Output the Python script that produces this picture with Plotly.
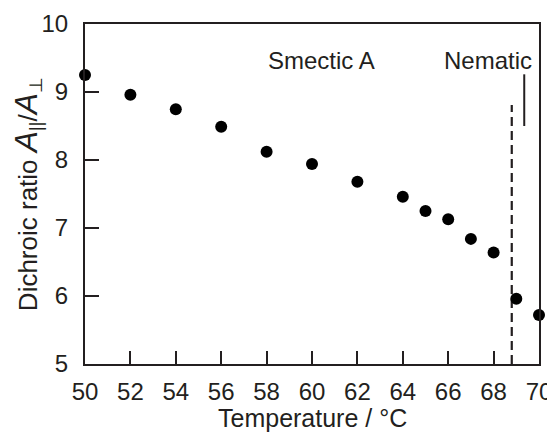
import plotly.graph_objects as go

temperature = [50, 52, 54, 56, 58, 60, 62, 64, 65, 66, 67, 68, 69, 70]
dichroic_ratio = [9.25, 8.96, 8.745, 8.49, 8.12, 7.94, 7.68, 7.46, 7.25, 7.13, 6.84, 6.64, 5.96, 5.72]

transition_T = [68.8, 68.8]
transition_y = [5.0, 8.81]
nematic_marker_T = [69.35, 69.35]
nematic_marker_y = [8.5, 9.26]

x_ticks = [50, 52, 54, 56, 58, 60, 62, 64, 66, 68, 70]
y_ticks = [5, 6, 7, 8, 9, 10]

ink = "#231f20"
font_family = "Liberation Sans, Arial, sans-serif"

fig = go.Figure()
fig.add_trace(go.Scatter(x=transition_T, y=transition_y, mode="lines",
                         line=dict(color=ink, width=2.2, dash="9px,5px"),
                         hoverinfo="skip", showlegend=False))
fig.add_trace(go.Scatter(x=nematic_marker_T, y=nematic_marker_y, mode="lines",
                         line=dict(color=ink, width=2),
                         hoverinfo="skip", showlegend=False))
fig.add_trace(go.Scatter(x=temperature, y=dichroic_ratio, mode="markers",
                         marker=dict(color="black", size=12),
                         cliponaxis=False, showlegend=False))

fig.add_annotation(x=60.4, y=9.47, text="Smectic A", showarrow=False,
                   font=dict(size=24, color=ink, family=font_family),
                   xanchor="center", yanchor="middle")
fig.add_annotation(x=69.8, y=9.47, text="Nematic", showarrow=False,
                   font=dict(size=24, color=ink, family=font_family),
                   xanchor="right", yanchor="middle")
# x-axis title placed as a paper annotation so it can sit lower than the margin allows
fig.add_annotation(x=0.5, y=0, xref="paper", yref="paper", yshift=-54,
                   text="Temperature / °C", showarrow=False,
                   font=dict(size=25, color=ink, family=font_family),
                   xanchor="center", yanchor="middle")

axis_common = dict(showline=True, linecolor=ink, linewidth=2, mirror=True,
                   ticks="inside", tickcolor=ink, tickwidth=2,
                   showgrid=False, zeroline=False, automargin=False,
                   tickfont=dict(size=24, color=ink, family=font_family))

fig.update_xaxes(range=[50, 70], tickvals=x_ticks, ticklen=13,
                 ticklabelstandoff=5,
                 **axis_common)
fig.update_yaxes(range=[5, 10], tickvals=y_ticks, ticklen=14,
                 ticklabelstandoff=10,
                 title=dict(text="Dichroic ratio <i><span style='font-size:32px'>A</span></i><sub>||</sub>/<i><span style='font-size:32px'>A</span></i><sub>⊥</sub>",
                            standoff=7,
                            font=dict(size=26, color=ink, family=font_family)),
                 **axis_common)

fig.update_layout(width=547, height=426,
                  margin=dict(l=77, r=16, t=16, b=70),
                  paper_bgcolor="white", plot_bgcolor="white",
                  font=dict(family=font_family, color=ink))

fig.write_html("out.html")
